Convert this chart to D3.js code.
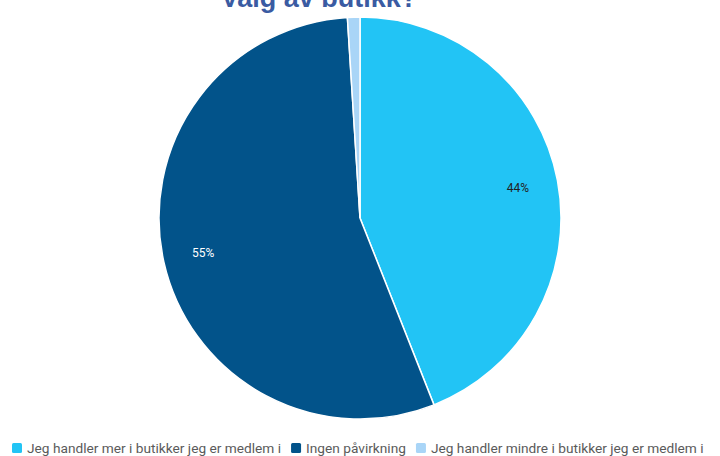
<!DOCTYPE html>
<html>
<head>
<meta charset="utf-8">
<script src="https://cdn.jsdelivr.net/npm/d3@7"></script>
<style>
  body { margin: 0; background: #fff; }
  svg { display: block; }
</style>
</head>
<body>
<svg id="chart"></svg>
<script>
const categories = [
  "Jeg handler mer i butikker jeg er medlem i",
  "Ingen påvirkning",
  "Jeg handler mindre i butikker jeg er medlem i"
];
const values = [44, 55, 1];
const labels = ["44%", "55%", ""];
const colors = ["#22c4f5", "#02538a", "#a9d5f7"];
const labelColors = ["#222", "#fff", "#222"];
const title = "Valg av butikk?";

const width = 720, height = 456;
const cx = 360, cy = 218, radius = 201;

const svg = d3.select("#chart")
    .attr("width", width)
    .attr("height", height);

// title, cut at the top like the original
svg.append("text")
    .attr("x", 319)
    .attr("y", 7)
    .attr("text-anchor", "middle")
    .attr("font-family", "Liberation Sans, Arial, sans-serif")
    .attr("font-weight", "bold")
    .attr("font-size", "27px")
    .attr("fill", "#3a5ba2")
    .text(title);

const data = categories.map((c, i) => ({name: c, value: values[i], label: labels[i], i: i}));

const pie = d3.pie().sort(null).value(d => d.value);
const arc = d3.arc().innerRadius(0).outerRadius(radius);
const labelArc = d3.arc().innerRadius(radius * 0.8).outerRadius(radius * 0.8);

const g = svg.append("g")
    .attr("transform", `translate(${cx},${cy})`);

const arcs = pie(data);

g.selectAll("path")
    .data(arcs)
    .join("path")
    .attr("d", arc)
    .attr("fill", d => colors[d.data.i])
    .attr("stroke", "#fff")
    .attr("stroke-width", 1.5);

g.selectAll("text.slice-label")
    .data(arcs)
    .join("text")
    .attr("class", "slice-label")
    .attr("transform", d => `translate(${labelArc.centroid(d)})`)
    .attr("text-anchor", "middle")
    .attr("dy", "0.35em")
    .attr("font-family", "Roboto, sans-serif")
    .attr("font-size", "12px")
    .attr("fill", d => labelColors[d.data.i])
    .text(d => d.data.label);

// legend along the bottom
const legend = svg.append("g").attr("transform", "translate(12,448)");
let lx = 0;
data.forEach((d, i) => {
  const item = legend.append("g").attr("transform", `translate(${lx},0)`);
  item.append("rect")
      .attr("x", 0).attr("y", -5)
      .attr("width", 10).attr("height", 10)
      .attr("rx", 1.5)
      .attr("fill", colors[i]);
  const t = item.append("text")
      .attr("x", 15)
      .attr("dy", "0.35em")
      .attr("font-family", "Roboto, sans-serif")
      .attr("font-size", "13.7px")
      .attr("fill", "#5a5a5a")
      .text(d.name);
  lx += 15 + t.node().getComputedTextLength() + 10;
});
</script>
</body>
</html>
